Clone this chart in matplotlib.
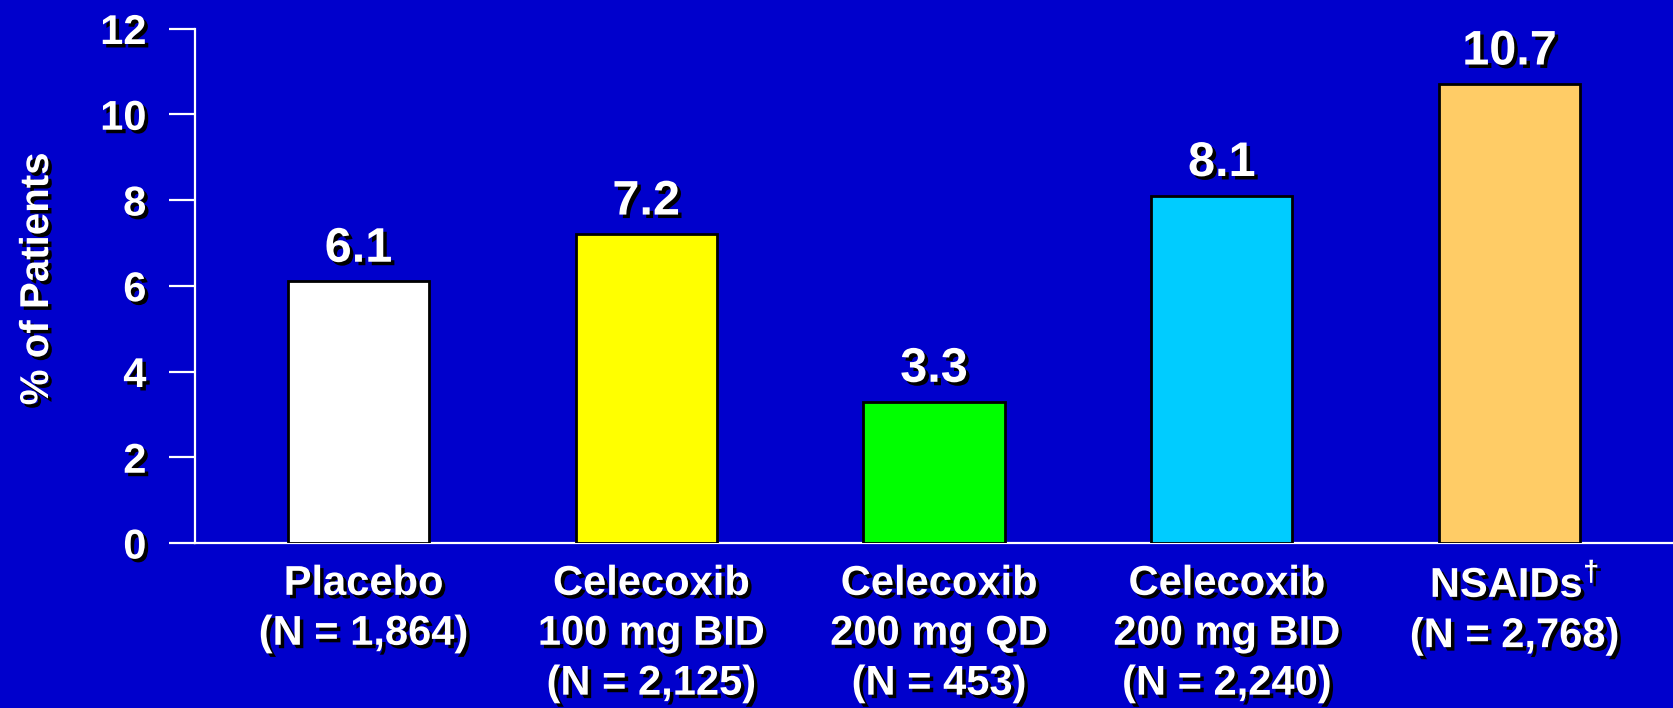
import matplotlib
matplotlib.use("Agg")
import matplotlib.pyplot as plt
import matplotlib.patheffects as pe
import matplotlib.transforms as mtransforms

# Data
categories = [
    "Placebo\n(N = 1,864)",
    "Celecoxib\n100 mg BID\n(N = 2,125)",
    "Celecoxib\n200 mg QD\n(N = 453)",
    "Celecoxib\n200 mg BID\n(N = 2,240)",
    "NSAIDs$^{\\dagger}$\n(N = 2,768)",
]
values = [6.1, 7.2, 3.3, 8.1, 10.7]
value_labels = ["6.1", "7.2", "3.3", "8.1", "10.7"]
bar_colors = ["#FFFFFF", "#FFFF00", "#00FF00", "#00CCFF", "#FFCC66"]
y_ticks = [0, 2, 4, 6, 8, 10, 12]
y_label = "% of Patients"

BG = "#0000CC"
plt.rcParams["font.family"] = ["Liberation Sans", "DejaVu Sans"]
plt.rcParams["font.weight"] = "bold"
plt.rcParams["mathtext.fontset"] = "custom"
plt.rcParams["mathtext.rm"] = "Liberation Sans:bold"
plt.rcParams["mathtext.bf"] = "Liberation Sans:bold"

shadow = [pe.withSimplePatchShadow(offset=(2.5, -2.5), shadow_rgbFace="black", alpha=1.0)]

W, H, DPI = 1673, 708, 100
fig = plt.figure(figsize=(W / DPI, H / DPI), dpi=DPI, facecolor=BG)
ax = fig.add_axes([195 / W, 165 / H, 1 - 195 / W, 514.5 / H], facecolor=BG)

x = list(range(len(values)))
ax.bar(x, values, width=0.49, color=bar_colors, edgecolor="black", linewidth=2.0, zorder=3)

for xi, v, lab in zip(x, values, value_labels):
    ax.annotate(lab, xy=(xi, v), xytext=(0, 7), textcoords="offset points",
                ha="center", va="bottom", color="white", fontsize=35,
                fontweight="bold", path_effects=shadow, zorder=5)

ax.set_xlim(-0.568, 4.568)
ax.set_ylim(0, 12)
ax.set_yticks(y_ticks)
ax.set_yticklabels([str(t) for t in y_ticks])
ax.set_xticks(x)
ax.set_xticklabels(categories, linespacing=1.32)

for s in ("top", "right"):
    ax.spines[s].set_visible(False)
for s in ("left", "bottom"):
    ax.spines[s].set_color("white")
    ax.spines[s].set_linewidth(1.6)
    ax.spines[s].set_zorder(2)

ax.tick_params(axis="y", direction="out", length=19, width=1.6, color="white",
               labelcolor="white", labelsize=30, pad=16)
ax.tick_params(axis="x", length=0, labelcolor="white", labelsize=30, pad=15)

shift = mtransforms.ScaledTranslation(5 / DPI, 0, fig.dpi_scale_trans)
for t in ax.get_xticklabels():
    t.set_transform(t.get_transform() + shift)

for t in ax.get_yticklabels() + ax.get_xticklabels():
    t.set_fontweight("bold")
    t.set_path_effects(shadow)

fig.text(37 / W, 0.5 + (708 / 2 - 279) / H, y_label, rotation=90, ha="center", va="center",
         color="white", fontsize=29, fontweight="bold", path_effects=shadow)

fig.savefig("out.png", dpi=DPI, facecolor=BG)
